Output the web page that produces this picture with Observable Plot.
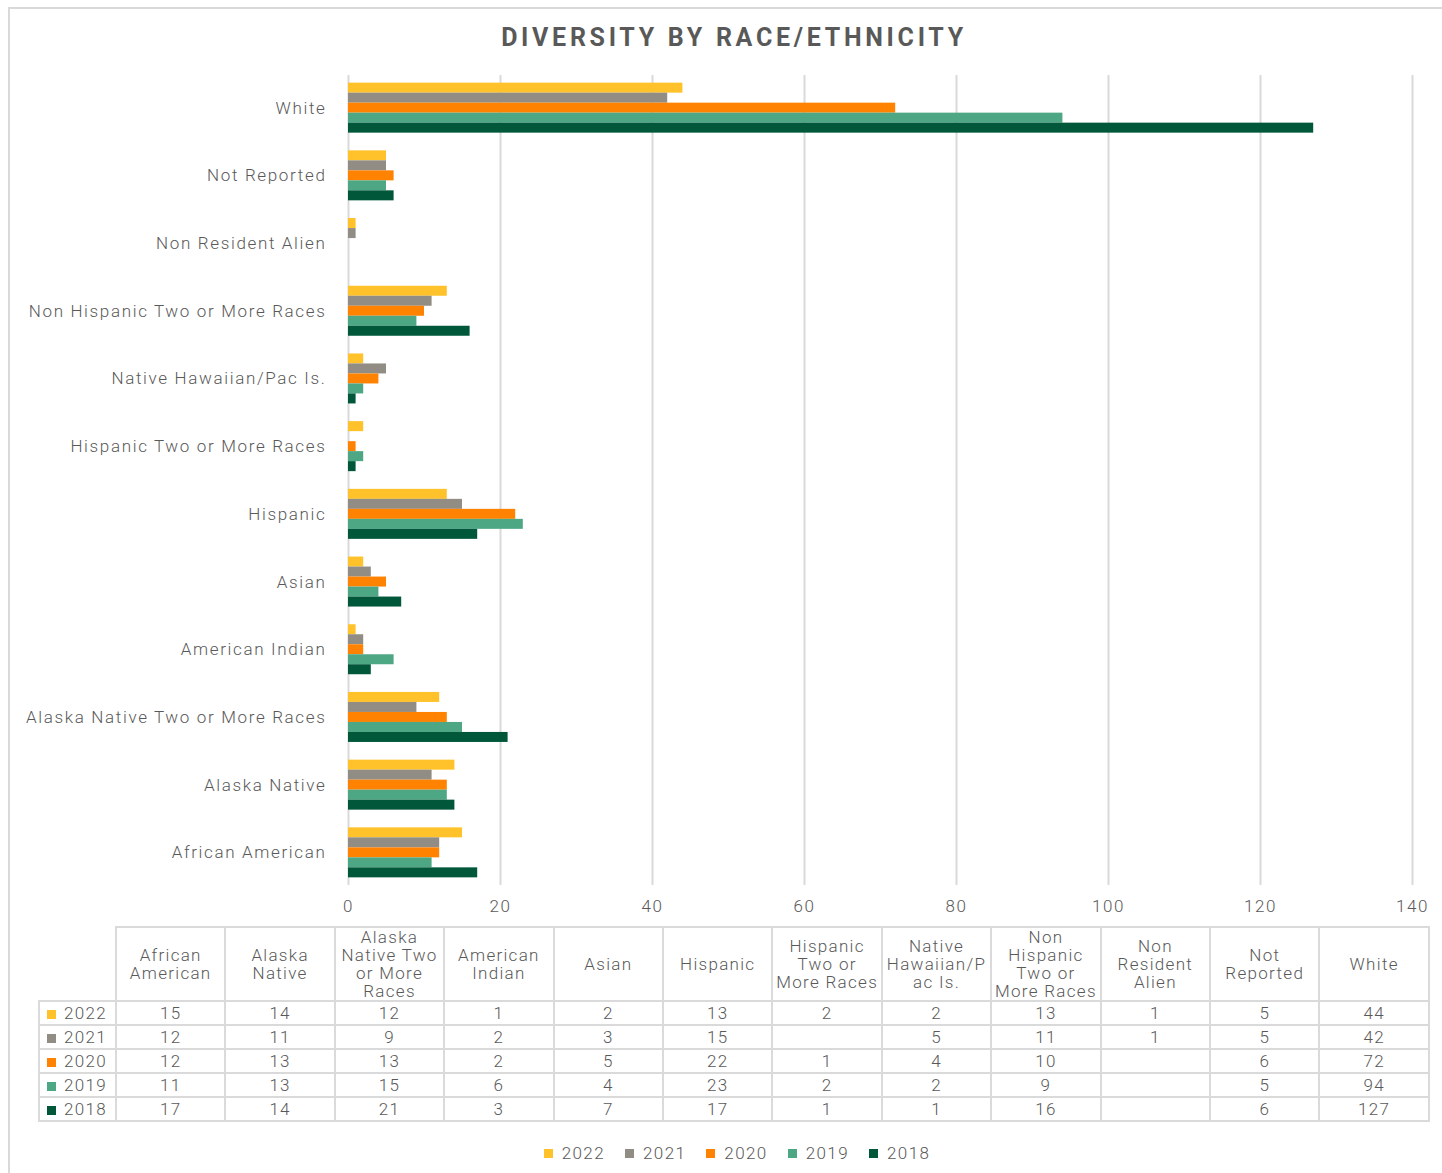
<!DOCTYPE html>
<html><head><meta charset="utf-8">
<script src="https://cdn.jsdelivr.net/npm/d3@7"></script>
<script src="https://cdn.jsdelivr.net/npm/@observablehq/plot@0.6"></script>
<style>
html,body{margin:0;padding:0;background:#fff;}
body{width:1442px;height:1173px;overflow:hidden;position:relative;font-family:Roboto,"Open Sans",sans-serif;color:#595959;}
#frame{position:absolute;left:8px;top:7px;width:1460px;height:1200px;border:2px solid #d9d9d9;box-sizing:border-box;}
#title{position:absolute;left:13px;width:1442px;top:24px;line-height:28px;text-align:center;font-size:25px;font-weight:700;letter-spacing:3.7px;color:#595959;}
#grid,#chart{position:absolute;left:0;top:0;}
#tbl{position:absolute;left:38px;top:926px;border-collapse:collapse;table-layout:fixed;width:1390px;font-size:17px;font-weight:300;letter-spacing:1.3px;color:#595959;}
#tbl td{border:2px solid #dadada;text-align:center;padding:0;white-space:nowrap;}
#tbl tr.head td{height:71px;line-height:18px;}
#tbl tr.data td{height:22px;line-height:22px;}
#tbl td.corner{border-top:none;border-left:none;}
#tbl td.yr{text-align:left;padding-left:7px;}
.sw{display:inline-block;width:9px;height:9px;margin-right:8px;vertical-align:0px;}
#legend{position:absolute;top:1142px;left:0;width:1474px;display:flex;justify-content:center;font-size:17px;font-weight:300;letter-spacing:1.4px;line-height:22px;}
#legend .it{margin:0 10px;display:flex;align-items:center;}
#legend .sw{margin-right:9px;}
</style>
</head><body>
<div id="frame"></div>
<div id="grid"></div>
<div id="chart"></div>
<div id="title">DIVERSITY BY RACE/ETHNICITY</div>
<table id="tbl"></table>
<div id="legend"></div>
<script>
const categories = ["African American","Alaska Native","Alaska Native Two or More Races","American Indian","Asian","Hispanic","Hispanic Two or More Races","Native Hawaiian/Pac Is.","Non Hispanic Two or More Races","Non Resident Alien","Not Reported","White"];
const headerLines = [["African","American"],["Alaska","Native"],["Alaska","Native Two","or More","Races"],["American","Indian"],["Asian"],["Hispanic"],["Hispanic","Two or","More Races"],["Native","Hawaiian/P","ac Is."],["Non","Hispanic","Two or","More Races"],["Non","Resident","Alien"],["Not","Reported"],["White"]];
const years = ["2022","2021","2020","2019","2018"];
const v2022 = [15,14,12,1,2,13,2,2,13,1,5,44];
const v2021 = [12,11,9,2,3,15,null,5,11,1,5,42];
const v2020 = [12,13,13,2,5,22,1,4,10,null,6,72];
const v2019 = [11,13,15,6,4,23,2,2,9,null,5,94];
const v2018 = [17,14,21,3,7,17,1,1,16,null,6,127];
const colors = ["#FFC22A","#918D84","#FF8200","#4DA784","#01573A"];
const xTicks = [0,20,40,60,80,100,120,140];

const series = [v2022,v2021,v2020,v2019,v2018];
const rows = [];
years.forEach((y,i)=>categories.forEach((c,j)=>{ if(series[i][j]!=null) rows.push({year:y,category:c,value:series[i][j]}); }));

const dims = {width:1442, height:930, marginLeft:348, marginRight:30, marginTop:75, marginBottom:45};

// background gridlines (spanning the full plot frame)
const grid = Plot.plot({
  ...dims,
  style:{background:"transparent"},
  x:{domain:[0,140], axis:null},
  marks:[ Plot.ruleX(xTicks,{x:d=>d, stroke:"#d9d9d9", strokeWidth:2}) ]
});
document.getElementById("grid").appendChild(grid);

const chart = Plot.plot({
  ...dims,
  style:{fontFamily:"Roboto, sans-serif", fontSize:"17px", fontWeight:300, color:"#595959", background:"transparent", letterSpacing:"1.65px"},
  x:{domain:[0,140]},
  y:{domain:years, padding:0, round:false, axis:null},
  fy:{domain:categories.slice().reverse(), paddingInner:0.2615, paddingOuter:0.113, round:false},
  color:{domain:years, range:colors},
  marks:[
    Plot.barX(rows,{x:"value", y:"year", fy:"category", fill:"year"}),
    Plot.axisFy({anchor:"left", tickSize:0, tickPadding:22, label:null}),
    Plot.axisX({ticks:xTicks, tickSize:0, tickPadding:22, label:null})
  ]
});
document.getElementById("chart").appendChild(chart);

// table
const tbl = document.getElementById("tbl");
const cg = document.createElement("colgroup");
const c0 = document.createElement("col"); c0.style.width="77px"; cg.appendChild(c0);
categories.forEach(()=>{const c=document.createElement("col"); c.style.width=(1313/12)+"px"; cg.appendChild(c);});
tbl.appendChild(cg);
const hr = document.createElement("tr"); hr.className="head";
const corner = document.createElement("td"); corner.className="corner"; hr.appendChild(corner);
headerLines.forEach(lines=>{const td=document.createElement("td"); td.innerHTML=lines.join("<br>"); hr.appendChild(td);});
tbl.appendChild(hr);
years.forEach((y,i)=>{
  const tr=document.createElement("tr"); tr.className="data";
  const td=document.createElement("td"); td.className="yr";
  td.innerHTML=`<span class="sw" style="background:${colors[i]}"></span>${y}`;
  tr.appendChild(td);
  series[i].forEach(v=>{const d=document.createElement("td"); d.textContent=v==null?"":v; tr.appendChild(d);});
  tbl.appendChild(tr);
});

// legend
const lg=document.getElementById("legend");
years.forEach((y,i)=>{const it=document.createElement("div"); it.className="it"; it.innerHTML=`<span class="sw" style="background:${colors[i]}"></span>${y}`; lg.appendChild(it);});
</script>
</body></html>
